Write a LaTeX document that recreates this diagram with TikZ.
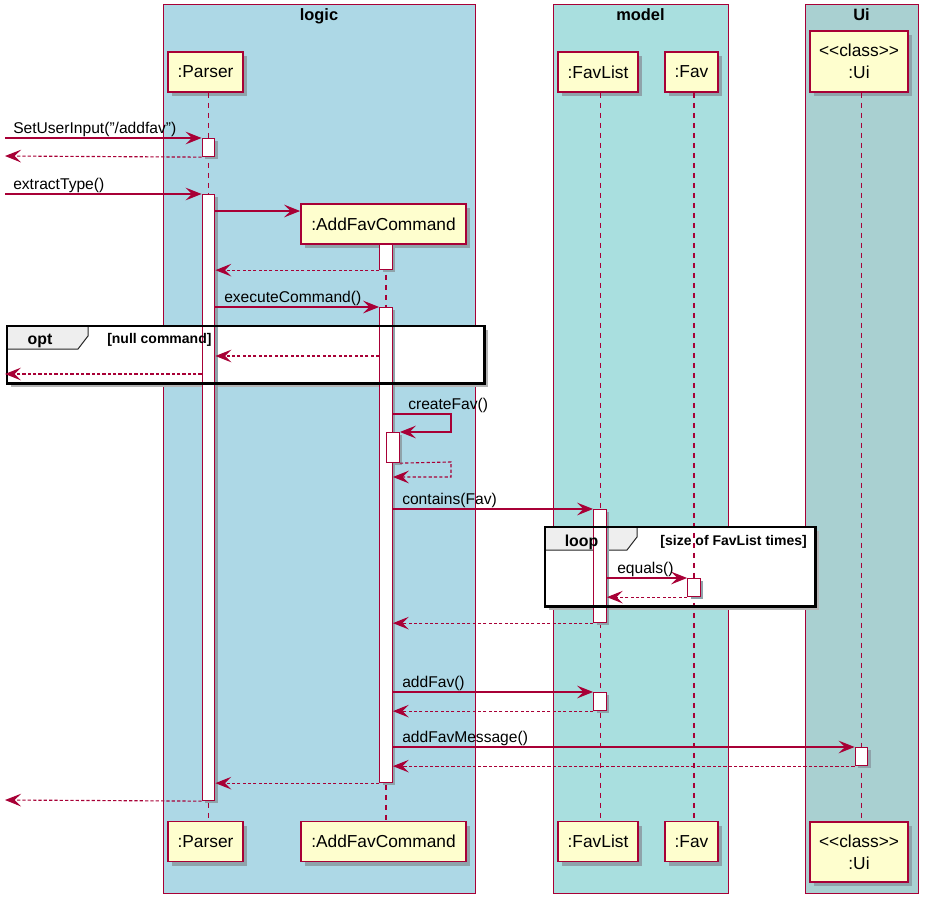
\documentclass[tikz,border=0pt]{standalone}
\usepackage{fontspec}
\setmainfont{Liberation Sans}
\usetikzlibrary{arrows.meta}
\definecolor{ln}{HTML}{A80036}
\definecolor{partbg}{HTML}{FEFECE}
\definecolor{logicbg}{HTML}{ADD8E6}
\definecolor{modelbg}{HTML}{A9DFDF}
\definecolor{uibg}{HTML}{A9D0D1}
\definecolor{tabbg}{HTML}{EEEEEE}
\definecolor{shd}{HTML}{8FA3AA}
\definecolor{shdw}{HTML}{B4B4B4}
\newcommand{\boxshadow}[5][shd]{\fill[#1] ({#2+4},{#3+4}) rectangle ({#4+4},{#5+4});}
\newcommand{\actshadow}[3]{\fill[shd] ({#1-3.3},{#2+3}) rectangle ({#1+9.3},{#3+3});}
\begin{document}
\begin{tikzpicture}[x=0.75pt,y=-0.75pt,
  grp/.style={draw=ln, line width=0.75pt},
  grptitle/.style={font=\fontsize{12.3}{14}\selectfont\bfseries, inner sep=0pt, anchor=base},
  partbox/.style={draw=ln, fill=partbg, line width=1.3pt, inner sep=0pt, align=center,
    font=\fontsize{13}{16.5}\selectfont},
  life/.style={draw=ln, line width=0.8pt, dash pattern=on 3.75pt off 3.75pt},
  act/.style={draw=ln, fill=white, line width=0.85pt, minimum width=9.5pt, inner sep=0pt, anchor=north},
  msg/.style={draw=ln, line width=0.85pt, -{Stealth[length=12pt,width=9.5pt,inset=4.8pt]}},
  ret/.style={msg, dash pattern=on 2.4pt off 1.6pt},
  msglabel/.style={font=\fontsize{11.7}{14}\selectfont, inner sep=0pt, anchor=base west},
  framefill/.style={fill=white, inner sep=0pt, anchor=north west},
  frameline/.style={draw=black, line width=1.7pt},
  tabline/.style={draw=black!85, fill=tabbg, line width=0.75pt},
  tablabel/.style={font=\fontsize{11.9}{14}\selectfont\bfseries, inner sep=0pt, anchor=base},
  guard/.style={font=\fontsize{10.5}{12}\selectfont\bfseries, inner sep=0pt, anchor=base}
]
\useasboundingbox (0,0) rectangle (930,906);
% group boxes
\draw[grp, fill=logicbg] (163,5) rectangle (475,893);
\draw[grp, fill=modelbg] (553,5) rectangle (728,893);
\draw[grp, fill=uibg] (805,5) rectangle (918,893);
\node[grptitle] (tlogic) at (319,21) {logic};
\node[grptitle] (tmodel) at (640.5,21) {model};
\node[grptitle] (tui) at (861.5,21) {Ui};
% frame fills
\boxshadow[shdw]{7}{326}{484}{383}
\boxshadow[shdw]{545}{527}{815}{606}
\node[framefill, minimum width=357.75pt, minimum height=42.75pt] (opt) at (7,326) {};
\node[framefill, minimum width=202.5pt, minimum height=59.25pt] (loop) at (545,527) {};
\filldraw[tabline] (7,326) -- (88,326) -- (88,336) -- (78,349) -- (7,349) -- cycle;
\filldraw[tabline] (545,527) -- (637,527) -- (637,537) -- (627,550) -- (545,550) -- cycle;
% participant shadows
\boxshadow{168}{52}{243}{92}
\boxshadow{168}{821.5}{243}{861.5}
\boxshadow{301}{204}{466}{244}
\boxshadow{301}{821.5}{466}{861.5}
\boxshadow{558}{52}{638}{92}
\boxshadow{558}{821.5}{638}{861.5}
\boxshadow{665}{52}{718}{92}
\boxshadow{665}{821.5}{718}{861.5}
\boxshadow{810}{31}{908}{92}
\boxshadow{810}{822}{908}{882}
% participants
\node[partbox, minimum width=56.25pt, minimum height=30pt] (pT) at (205.5,72) {:Parser};
\node[partbox, minimum width=56.25pt, minimum height=30pt] (pB) at (205.5,841.5) {:Parser};
\node[partbox, minimum width=123.75pt, minimum height=30pt] (aT) at (383.5,224) {:AddFavCommand};
\node[partbox, minimum width=123.75pt, minimum height=30pt] (aB) at (383.5,841.5) {:AddFavCommand};
\node[partbox, minimum width=60pt, minimum height=30pt] (fT) at (598,72) {:FavList};
\node[partbox, minimum width=60pt, minimum height=30pt] (fB) at (598,841.5) {:FavList};
\node[partbox, minimum width=39.75pt, minimum height=30pt] (vT) at (691.5,72) {:Fav};
\node[partbox, minimum width=39.75pt, minimum height=30pt] (vB) at (691.5,841.5) {:Fav};
\node[partbox, minimum width=73.5pt, minimum height=45.5pt] (uT) at (859,61.5) {<{}<class>{}>\\:Ui};
\node[partbox, minimum width=73.5pt, minimum height=45pt] (uB) at (859,852) {<{}<class>{}>\\:Ui};
% lifelines
\coordinate (xP) at (208.5,0);
\coordinate (xA) at (386,0);
\coordinate (xF) at (600.5,0);
\coordinate (xV) at (694,0);
\coordinate (xU) at (861.5,0);
\draw[life] (pT.south -| xP) -- (pB.north -| xP);
\draw[life] (aT.south -| xA) -- (aB.north -| xA);
\draw[life] (fT.south -| xF) -- (fB.north -| xF);
\draw[life] (vT.south -| xV) -- (vB.north -| xV);
\draw[life] (uT.south -| xU) -- (uB.north -| xU);
% activation shadows
\actshadow{208.5}{138}{156}
\actshadow{208.5}{194}{800}
\actshadow{386}{244}{269}
\actshadow{386}{307}{782}
\actshadow{393}{432}{462}
\actshadow{600}{509}{622}
\actshadow{694}{578}{596}
\actshadow{600}{692}{710}
\actshadow{861.5}{747}{765}
% activations
\node[act, minimum height=13.5pt] (pA1) at (208.5,138) {};
\node[act, minimum height=454.5pt] (pA2) at (208.5,194) {};
\node[act, minimum height=18.75pt] (aA1) at (386,244) {};
\node[act, minimum height=356.25pt] (aA2) at (386,307) {};
\node[act, minimum height=22.5pt] (aA3) at (393,432) {};
\node[act, minimum height=84.75pt] (fA1) at (600,509) {};
\node[act, minimum height=13.5pt] (vA1) at (694,578) {};
\node[act, minimum height=13.5pt] (fA2) at (600,692) {};
\node[act, minimum height=13.5pt] (uA1) at (861.5,747) {};
% frame borders and labels
\draw[frameline] (opt.north west) rectangle (opt.south east);
\draw[frameline] (loop.north west) rectangle (loop.south east);
\node[tablabel] (optl) at (40,344) {opt};
\node[guard, anchor=base west] (optg) at (107,343) {[null command]};
\node[tablabel] (loopl) at (581.5,546) {loop};
\node[guard, anchor=base east] (loopg) at (807,545) {[size of FavList times]};
% message y levels and free ends
\coordinate (in1) at (5,138);
\coordinate (out1) at (5,156);
\coordinate (in2) at (5,194);
\coordinate (y211) at (0,211);
\coordinate (y356) at (0,356);
\coordinate (out2) at (5,374);
\coordinate (out3) at (5,800);
\coordinate (s1) at (451,414);
\coordinate (s2) at (451,432);
\coordinate (s3) at (451,462);
\coordinate (s4) at (451,477);
% messages
\draw[msg] (in1) -- (pA1.north west);
\node[msglabel] (m1) at (13,133) {SetUserInput("/addfav")};
\draw[ret] (pA1.south west) -- (out1);
\draw[msg] (in2) -- (pA2.north west);
\node[msglabel] (m2) at (13,189) {extractType()};
\draw[msg] (pA2.east |- y211) -- (aT.west |- y211);
\draw[ret] (aA1.south west) -- (pA2.east |- aA1.south);
\draw[msg] (pA2.east |- aA2.north) -- (aA2.north west);
\node[msglabel] (m3) at (224,302) {executeCommand()};
\draw[ret] (aA2.west |- y356) -- (pA2.east |- y356);
\draw[ret] (pA2.west |- out2) -- (out2);
\draw[msg] (aA2.east |- s1) -- (s1) -- (s2) -- (aA3.north east);
\node[msglabel] (m4) at (408,409) {createFav()};
\draw[ret] (aA3.south east) -- (s3) -- (s4) -- (aA2.east |- s4);
\draw[msg] (aA2.east |- fA1.north) -- (fA1.north west);
\node[msglabel] (m5) at (402,504) {contains(Fav)};
\draw[msg] (fA1.east |- vA1.north) -- (vA1.north west);
\node[msglabel] (m6) at (617,573) {equals()};
\draw[ret] (vA1.south west) -- (fA1.east |- vA1.south);
\draw[ret] (fA1.south west) -- (aA2.east |- fA1.south);
\draw[msg] (aA2.east |- fA2.north) -- (fA2.north west);
\node[msglabel] (m7) at (402,687) {addFav()};
\draw[ret] (fA2.south west) -- (aA2.east |- fA2.south);
\draw[msg] (aA2.east |- uA1.north) -- (uA1.north west);
\node[msglabel] (m8) at (402,742) {addFavMessage()};
\draw[ret] (uA1.south west) -- (aA2.east |- uA1.south);
\draw[ret] (aA2.south west) -- (pA2.east |- aA2.south);
\draw[ret] (pA2.south west) -- (out3);
\end{tikzpicture}
\end{document}
